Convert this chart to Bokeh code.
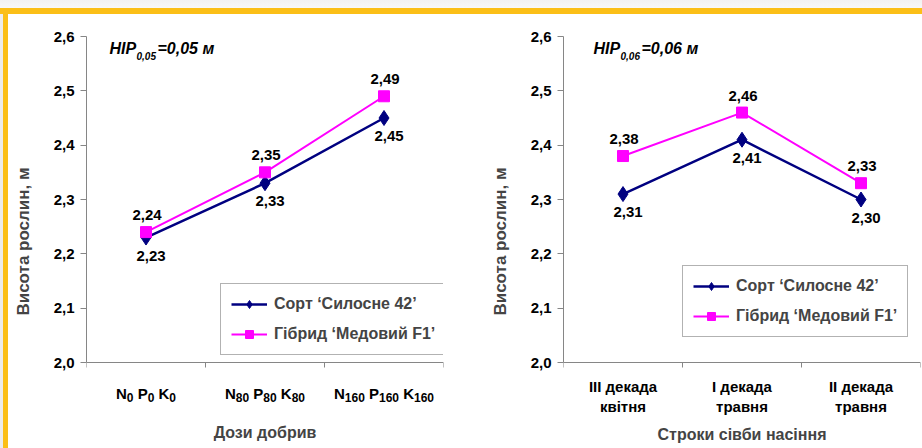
from bokeh.plotting import figure
from bokeh.layouts import row
from bokeh.models import (ColumnDataSource, FixedTicker, Legend, LegendItem,
                          Label, Range1d)
from bokeh.embed import file_html
from bokeh.resources import INLINE
from bokeh.core.properties import value

# Chart 1: plant height by fertilizer dose (N, P, K rates, kg/ha)
dose_elements = ["N", "P", "K"]
dose_rates = ["0", "80", "160"]
dose_sort = [2.23, 2.33, 2.45]
dose_hybrid = [2.24, 2.35, 2.49]
dose_lsd = "0,05"

# Chart 2: plant height by sowing date
date_labels = ["III декада\nквітня", "I декада\nтравня", "II декада\nтравня"]
date_sort = [2.31, 2.41, 2.30]
date_hybrid = [2.38, 2.46, 2.33]
date_lsd = "0,06"

y_ticks = [2.0, 2.1, 2.2, 2.3, 2.4, 2.5, 2.6]
y_tick_labels = ["2,0", "2,1", "2,2", "2,3", "2,4", "2,5", "2,6"]

series_names = ["Сорт ‘Силосне 42’", "Гібрид ‘Медовий F1’"]
y_title = "Висота рослин, м"
x_titles = ["Дози добрив", "Строки сівби насіння"]

NAVY = "#000080"
MAGENTA = "#FF00FF"
AXIS_GREY = "#868686"
FONT = "Liberation Sans"

# vertical layout (px): top of plot area, x-axis line, bottom of drawing area
TOP, AXIS_Y, BOTTOM, HEIGHT = 36, 362, 446, 448
# the drawing area reaches below the x axis so the category labels fit in it
y_lo = y_ticks[-1] - (y_ticks[-1] - y_ticks[0]) * (BOTTOM - TOP) / (AXIS_Y - TOP)

# advance widths (em) of Liberation Sans Bold, for laying out formula labels
CHAR_W = {"N": 0.722, "P": 0.667, "K": 0.722, " ": 0.278}
DIGIT_W = 0.556


def text_width(s, size):
    return sum(CHAR_W.get(c, DIGIT_W) for c in s) * size


def fmt(v):
    return f"{v:.2f}".replace(".", ",")


def make_chart(n, sort_vals, hybrid_vals, lsd, x_title, width,
               border_left, border_right, lsd_x, legend_loc, cat_labels,
               label_standoff, title_standoff):
    xs = [i + 0.5 for i in range(n)]
    p = figure(width=width, height=HEIGHT, output_backend="svg",
               toolbar_location=None, x_range=Range1d(0, n),
               y_range=Range1d(y_lo, y_ticks[-1]),
               min_border_left=border_left, min_border_right=border_right,
               min_border_top=TOP, min_border_bottom=HEIGHT - BOTTOM)
    p.border_fill_color = None
    p.background_fill_color = "white"
    p.outline_line_color = None
    p.xgrid.visible = False
    p.ygrid.visible = False

    # y axis
    yax = p.yaxis[0]
    yax.bounds = (y_ticks[0], y_ticks[-1])
    yax.ticker = FixedTicker(ticks=y_ticks, minor_ticks=[])
    yax.major_label_overrides = dict(zip(y_ticks, y_tick_labels))
    yax.axis_line_color = AXIS_GREY
    yax.major_tick_line_color = AXIS_GREY
    yax.major_tick_in = 0
    yax.major_tick_out = 6
    yax.major_label_standoff = 6
    yax.major_label_text_font = FONT
    yax.major_label_text_font_style = "bold"
    yax.major_label_text_font_size = "15px"
    yax.major_label_text_color = "black"
    yax.axis_label = y_title
    yax.axis_label_text_font = FONT
    yax.axis_label_text_font_style = "bold"
    yax.axis_label_text_font_size = "17px"
    yax.axis_label_standoff = 18

    # x axis at 2,0: category names centred, ticks on category boundaries
    xax = p.xaxis[0]
    xax.fixed_location = y_ticks[0]
    xax.ticker = FixedTicker(ticks=xs, minor_ticks=list(range(n + 1)))
    xax.major_label_overrides = dict(zip(xs, cat_labels))
    xax.axis_line_color = AXIS_GREY
    xax.major_tick_line_color = None
    xax.major_tick_in = 0
    xax.major_tick_out = 0
    xax.minor_tick_line_color = AXIS_GREY
    xax.minor_tick_in = 0
    xax.minor_tick_out = 5
    xax.major_label_standoff = label_standoff
    xax.major_label_text_font = FONT
    xax.major_label_text_font_style = "bold"
    xax.major_label_text_font_size = "15px"
    xax.major_label_text_color = "black"
    xax.axis_label = x_title
    xax.axis_label_text_font = FONT
    xax.axis_label_text_font_style = "bold"
    xax.axis_label_text_font_size = "16px"
    xax.axis_label_standoff = title_standoff

    src_s = ColumnDataSource(dict(x=xs, y=sort_vals,
                                  t=[fmt(v) for v in sort_vals]))
    src_h = ColumnDataSource(dict(x=xs, y=hybrid_vals,
                                  t=[fmt(v) for v in hybrid_vals]))

    l_s = p.line("x", "y", source=src_s, color=NAVY, line_width=2.5)
    m_s = p.scatter("x", "y", source=src_s, marker="diamond", size=15,
                    fill_color=NAVY, line_color=NAVY)
    l_h = p.line("x", "y", source=src_h, color=MAGENTA, line_width=2)
    m_h = p.scatter("x", "y", source=src_h, marker="square", size=11,
                    fill_color=MAGENTA, line_color=MAGENTA)

    text_style = dict(text_font=value(FONT), text_font_style="bold",
                      text_font_size="15px", text_color="black",
                      text_align="center", text_baseline="middle")
    p.text("x", "y", text="t", source=src_h, x_offset=1, y_offset=-17,
           **text_style)
    p.text("x", "y", text="t", source=src_s, x_offset=5, y_offset=18,
           **text_style)

    # least significant difference note
    y_note = 2.563
    note = dict(x_units="screen", y_units="data", text_font=FONT,
                text_font_style="bold italic", text_color="black")
    p.add_layout(Label(x=lsd_x, y=y_note, text="НІР",
                       text_font_size="16px", **note))
    p.add_layout(Label(x=lsd_x + 27, y=y_note, y_offset=-3, text=lsd,
                       text_font_size="10px", **note))
    p.add_layout(Label(x=lsd_x + 48, y=y_note, text=f"={lsd} м",
                       text_font_size="16px", **note))

    legend = Legend(items=[
        LegendItem(label=series_names[0], renderers=[l_s, m_s]),
        LegendItem(label=series_names[1], renderers=[l_h, m_h]),
    ], location=legend_loc, margin=0, padding=10, spacing=10,
        glyph_width=36, glyph_height=20, label_height=20, label_standoff=7,
        label_text_font=FONT, label_text_font_style="bold",
        label_text_font_size="16px", border_line_color="#666666",
        border_line_width=1, background_fill_color="white")
    p.add_layout(legend, "center")
    return p, xs


def add_formula_labels(p, xs, elements, rates, main_size=15, sub_size=12):
    """Write N/P/K dose labels with subscript rates under the x axis."""
    for x, rate in zip(xs, rates):
        pieces = []
        for j, el in enumerate(elements):
            pieces.append((el, main_size, 0))
            pieces.append((rate, sub_size, -4))
            if j < len(elements) - 1:
                pieces.append((" ", main_size, 0))
        total = sum(text_width(s, sz) for s, sz, _ in pieces)
        off = -total / 2
        for s, sz, dy in pieces:
            if s.strip():
                p.add_layout(Label(
                    x=x, y=y_ticks[0], x_units="data", y_units="data",
                    x_offset=off, y_offset=-31 + dy, text=s, text_font=FONT,
                    text_font_style="bold", text_font_size=f"{sz}px",
                    text_color="black", text_align="left",
                    text_baseline="alphabetic"))
            off += text_width(s, sz)


p1, xs1 = make_chart(3, dose_sort, dose_hybrid, dose_lsd, x_titles[0],
                     width=460, border_left=86, border_right=17, lsd_x=23,
                     legend_loc=(134, BOTTOM - 355),
                     cat_labels=["", "", ""], label_standoff=10,
                     title_standoff=56)
add_formula_labels(p1, xs1, dose_elements, dose_rates)

p2, _ = make_chart(3, date_sort, date_hybrid, date_lsd, x_titles[1],
                   width=462, border_left=103, border_right=2, lsd_x=30,
                   legend_loc=(119, BOTTOM - 337),
                   cat_labels=date_labels, label_standoff=10,
                   title_standoff=8)

page = row(p1, p2, styles={
    "background": (
        "linear-gradient(to bottom, #f2f2f2 0px, #f8f8f8 8px, #FBBF17 8px, "
        "#FBBF17 14px, rgba(255,255,255,0) 14px), "
        "linear-gradient(to right, #ececec 0px, #ececec 3px, #FBBF17 3px, "
        "#FBBF17 8px, #ffffff 8px)"
    )
})

open("out.html", "w").write(file_html(page, INLINE))
